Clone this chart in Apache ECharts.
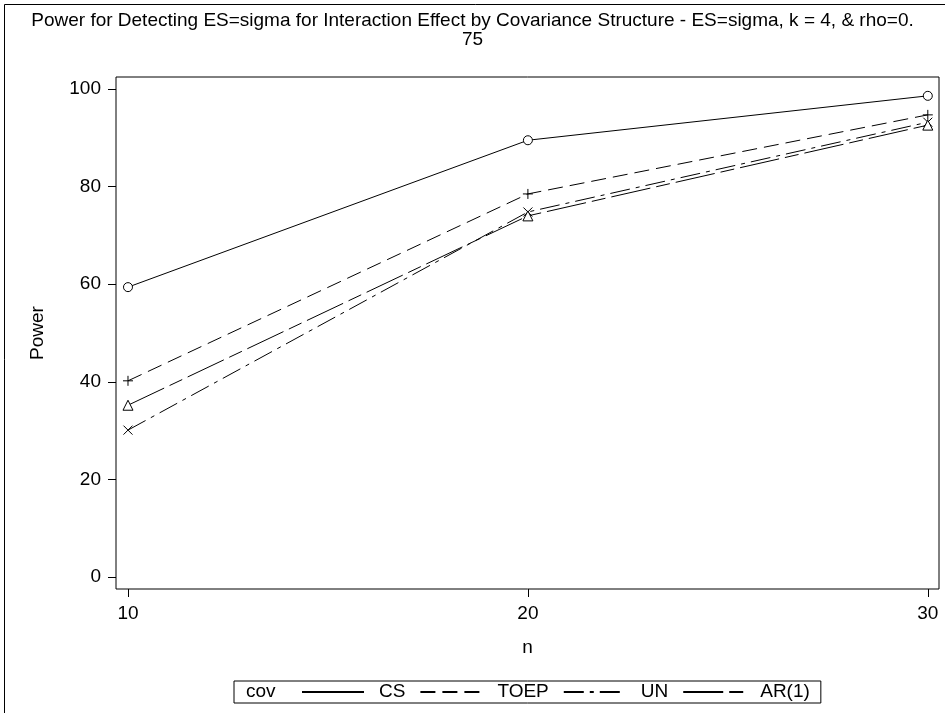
<!DOCTYPE html>
<html>
<head>
<meta charset="utf-8">
<script src="https://cdn.jsdelivr.net/npm/echarts@6/dist/echarts.min.js"></script>
<style>
  html, body { margin: 0; padding: 0; background: #fff; }
  #chart { width: 945px; height: 713px; }
</style>
</head>
<body>
<div id="chart"></div>
<script>
// Sample sizes (n) and power (%) for each covariance structure
const nValues = [10, 20, 30];
const powerCS = [59.4, 89.5, 98.6];
const powerTOEP = [40.2, 78.5, 94.7];
const powerUN = [30.1, 74.8, 93.2];
const powerAR1 = [35.2, 74.0, 92.6];
const yTicks = [0, 20, 40, 60, 80, 100];
const xTicks = [10, 20, 30];

const FONT = '"Liberation Sans", Arial, sans-serif';
const FS = 19;
const INK = '#000';

function pairs(vals) {
  return nValues.map((n, i) => [n, vals[i]]);
}

// Marker outlines (stroked paths)
const circlePath = 'path://M10,5A5,5,0,1,1,0,5A5,5,0,1,1,10,5Z';
const trianglePath = 'path://M5,0L10,9L0,9Z';
const plusPath = 'path://M5,0L5,10M0,5L10,5';
const crossPath = 'path://M0,0L10,10M10,0L0,10';

function makeSeries(name, vals, symbol, fill, dash, size) {
  return {
    name: name,
    type: 'line',
    data: pairs(vals),
    symbol: symbol,
    symbolSize: size,
    showSymbol: true,
    lineStyle: { color: INK, width: 1, type: dash },
    itemStyle: { color: fill, borderColor: INK, borderWidth: 1 },
    emphasis: { disabled: true },
    animation: false,
    z: 3
  };
}

const chart = echarts.init(document.getElementById('chart'), null, { renderer: 'canvas' });

chart.setOption({
  backgroundColor: '#fff',
  animation: false,
  title: {
    text: 'Power for Detecting ES=sigma for Interaction Effect by Covariance Structure - ES=sigma, k = 4, & rho=0.\n75',
    left: 'center',
    top: 6,
    textStyle: { fontFamily: FONT, fontSize: FS, fontWeight: 'normal', color: INK, lineHeight: 19, align: 'center' }
  },
  grid: {
    left: 116, top: 77, right: 6, bottom: 124,
    show: true, borderColor: INK, borderWidth: 1, backgroundColor: 'transparent'
  },
  xAxis: {
    type: 'value',
    min: 9.7, max: 30.28,
    name: 'n',
    nameLocation: 'middle',
    nameGap: 49,
    nameTextStyle: { fontFamily: FONT, fontSize: FS, color: INK },
    axisLine: { show: false, onZero: false },
    splitLine: { show: false },
    axisTick: { show: true, length: 8, inside: false, lineStyle: { color: INK }, customValues: xTicks },
    axisLabel: { fontFamily: FONT, fontSize: FS, color: INK, margin: 15, customValues: xTicks }
  },
  yAxis: {
    type: 'value',
    min: -2.46, max: 102.46,
    name: 'Power',
    nameLocation: 'middle',
    nameGap: 69,
    nameRotate: 90,
    nameTextStyle: { fontFamily: FONT, fontSize: FS, color: INK },
    axisLine: { show: false, onZero: false },
    splitLine: { show: false },
    axisTick: { show: true, length: 8, inside: false, lineStyle: { color: INK }, customValues: yTicks },
    axisLabel: { fontFamily: FONT, fontSize: FS, color: INK, margin: 15, customValues: yTicks }
  },
  legend: {
    show: true,
    left: 234,
    top: 681,
    padding: [1, 11, 1, 67],
    itemWidth: 62,
    itemHeight: 10,
    itemGap: 14,
    borderColor: INK,
    borderWidth: 1,
    selectedMode: false,
    itemStyle: { opacity: 0 },
    textStyle: { fontFamily: FONT, fontSize: FS, color: INK, padding: [0, 0, 0, 10], lineHeight: 20 },
    data: ['CS', 'TOEP', 'UN', 'AR(1)']
  },
  graphic: [
    {
      type: 'text', left: 246, top: 682,
      style: { text: 'cov', font: FS + 'px ' + FONT, fill: INK, lineHeight: 20 }
    },
    {
      type: 'rect', left: 2, top: 2, silent: true,
      shape: { width: 1000, height: 1000 },
      style: { fill: 'none', stroke: INK, lineWidth: 1 }
    }
  ],
  series: [
    makeSeries('CS', powerCS, circlePath, '#fff', 'solid', 9),
    makeSeries('TOEP', powerTOEP, plusPath, 'none', [15, 7], 10),
    makeSeries('UN', powerUN, crossPath, 'none', [20, 6, 4, 6], 9),
    makeSeries('AR(1)', powerAR1, trianglePath, '#fff', [40, 6, 14, 6], 10)
  ]
});
</script>
</body>
</html>
